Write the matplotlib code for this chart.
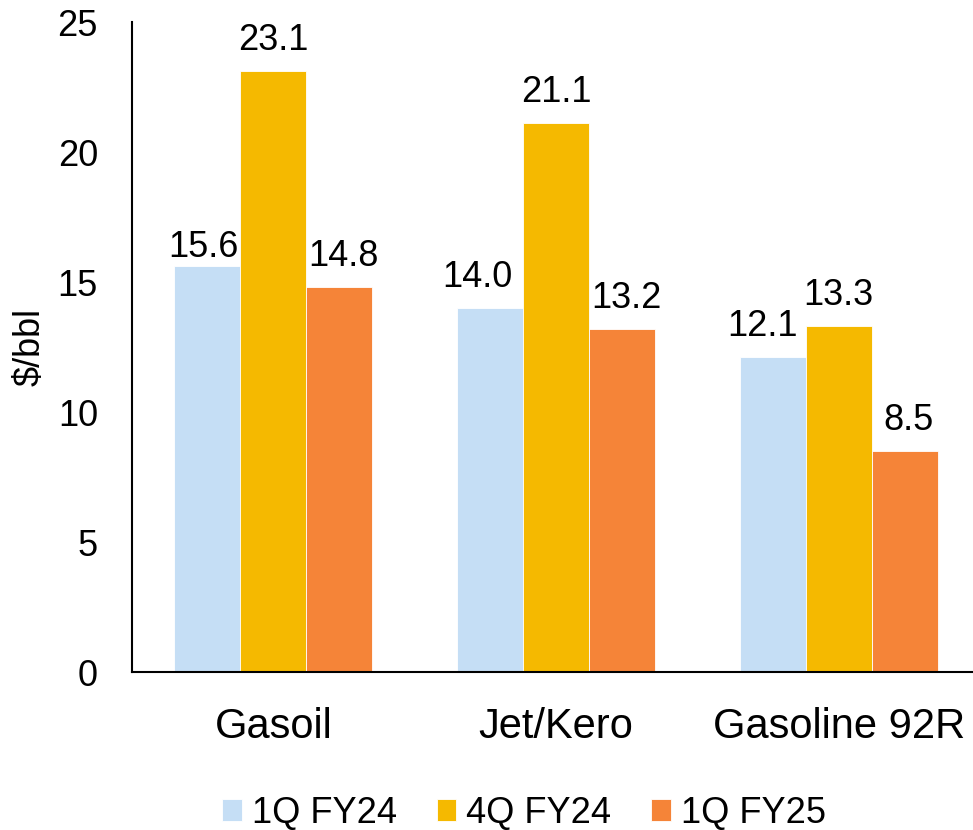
import numpy as np
import matplotlib
matplotlib.use("Agg")
import matplotlib.pyplot as plt

plt.rcParams["font.family"] = ["Liberation Sans", "DejaVu Sans"]

categories = ["Gasoil", "Jet/Kero", "Gasoline 92R"]
series_names = ["1Q FY24", "4Q FY24", "1Q FY25"]
q1_fy24 = [15.6, 14.0, 12.1]
q4_fy24 = [23.1, 21.1, 13.3]
q1_fy25 = [14.8, 13.2, 8.5]
colors = ["#C5DEF5", "#F5B900", "#F58438"]

fig = plt.figure(figsize=(9.73, 8.3), dpi=100)
ax = fig.add_axes([132 / 973, 158 / 830, 848 / 973, 650 / 830])

# label nudges in points (dx, dy), as the labels sit in the original
nudge = [[(-3, 1), (-9, 9.5), (-7, 9.5)],
         [(0, 9.5), (0, 9.5), (0, 9.5)],
         [(3, 9.5), (3, 9.5), (3, 9.5)]]

x = np.arange(len(categories))
w = 0.7 / 3
for i, (name, vals) in enumerate(zip(series_names, [q1_fy24, q4_fy24, q1_fy25])):
    bars = ax.bar(x + (i - 1) * w, vals, w, color=colors[i], label=name,
                  edgecolor="white", linewidth=0.6)
    for j, b in enumerate(bars):
        ax.annotate(f"{vals[j]:.1f}", (b.get_x() + b.get_width() / 2, b.get_height()),
                    xytext=nudge[i][j], textcoords="offset points",
                    ha="center", va="bottom", fontsize=26)

ax.set_xlim(-0.5, 2.5)
ax.set_ylim(0, 25)
ax.set_yticks([0, 5, 10, 15, 20, 25])
ax.set_xticks(x)
ax.set_xticklabels(categories)
ax.tick_params(axis="x", length=0, pad=25, labelsize=30)
ax.tick_params(axis="y", length=0, pad=24.5, labelsize=26)

for side in ["top", "right"]:
    ax.spines[side].set_visible(False)
for side in ["left", "bottom"]:
    ax.spines[side].set_linewidth(1.5)
    ax.spines[side].set_color("black")

ax.set_ylabel("$/bbl", fontsize=26)
ax.yaxis.set_label_coords((48 - 132) / 848, 0.5)

fig.legend(loc="center", bbox_to_anchor=(524 / 973, 1 - 813 / 830), ncol=3,
           frameon=False, fontsize=26, handlelength=0.55, handleheight=0.55,
           handletextpad=0.28, columnspacing=1.1)

fig.savefig("out.png", dpi=100)
